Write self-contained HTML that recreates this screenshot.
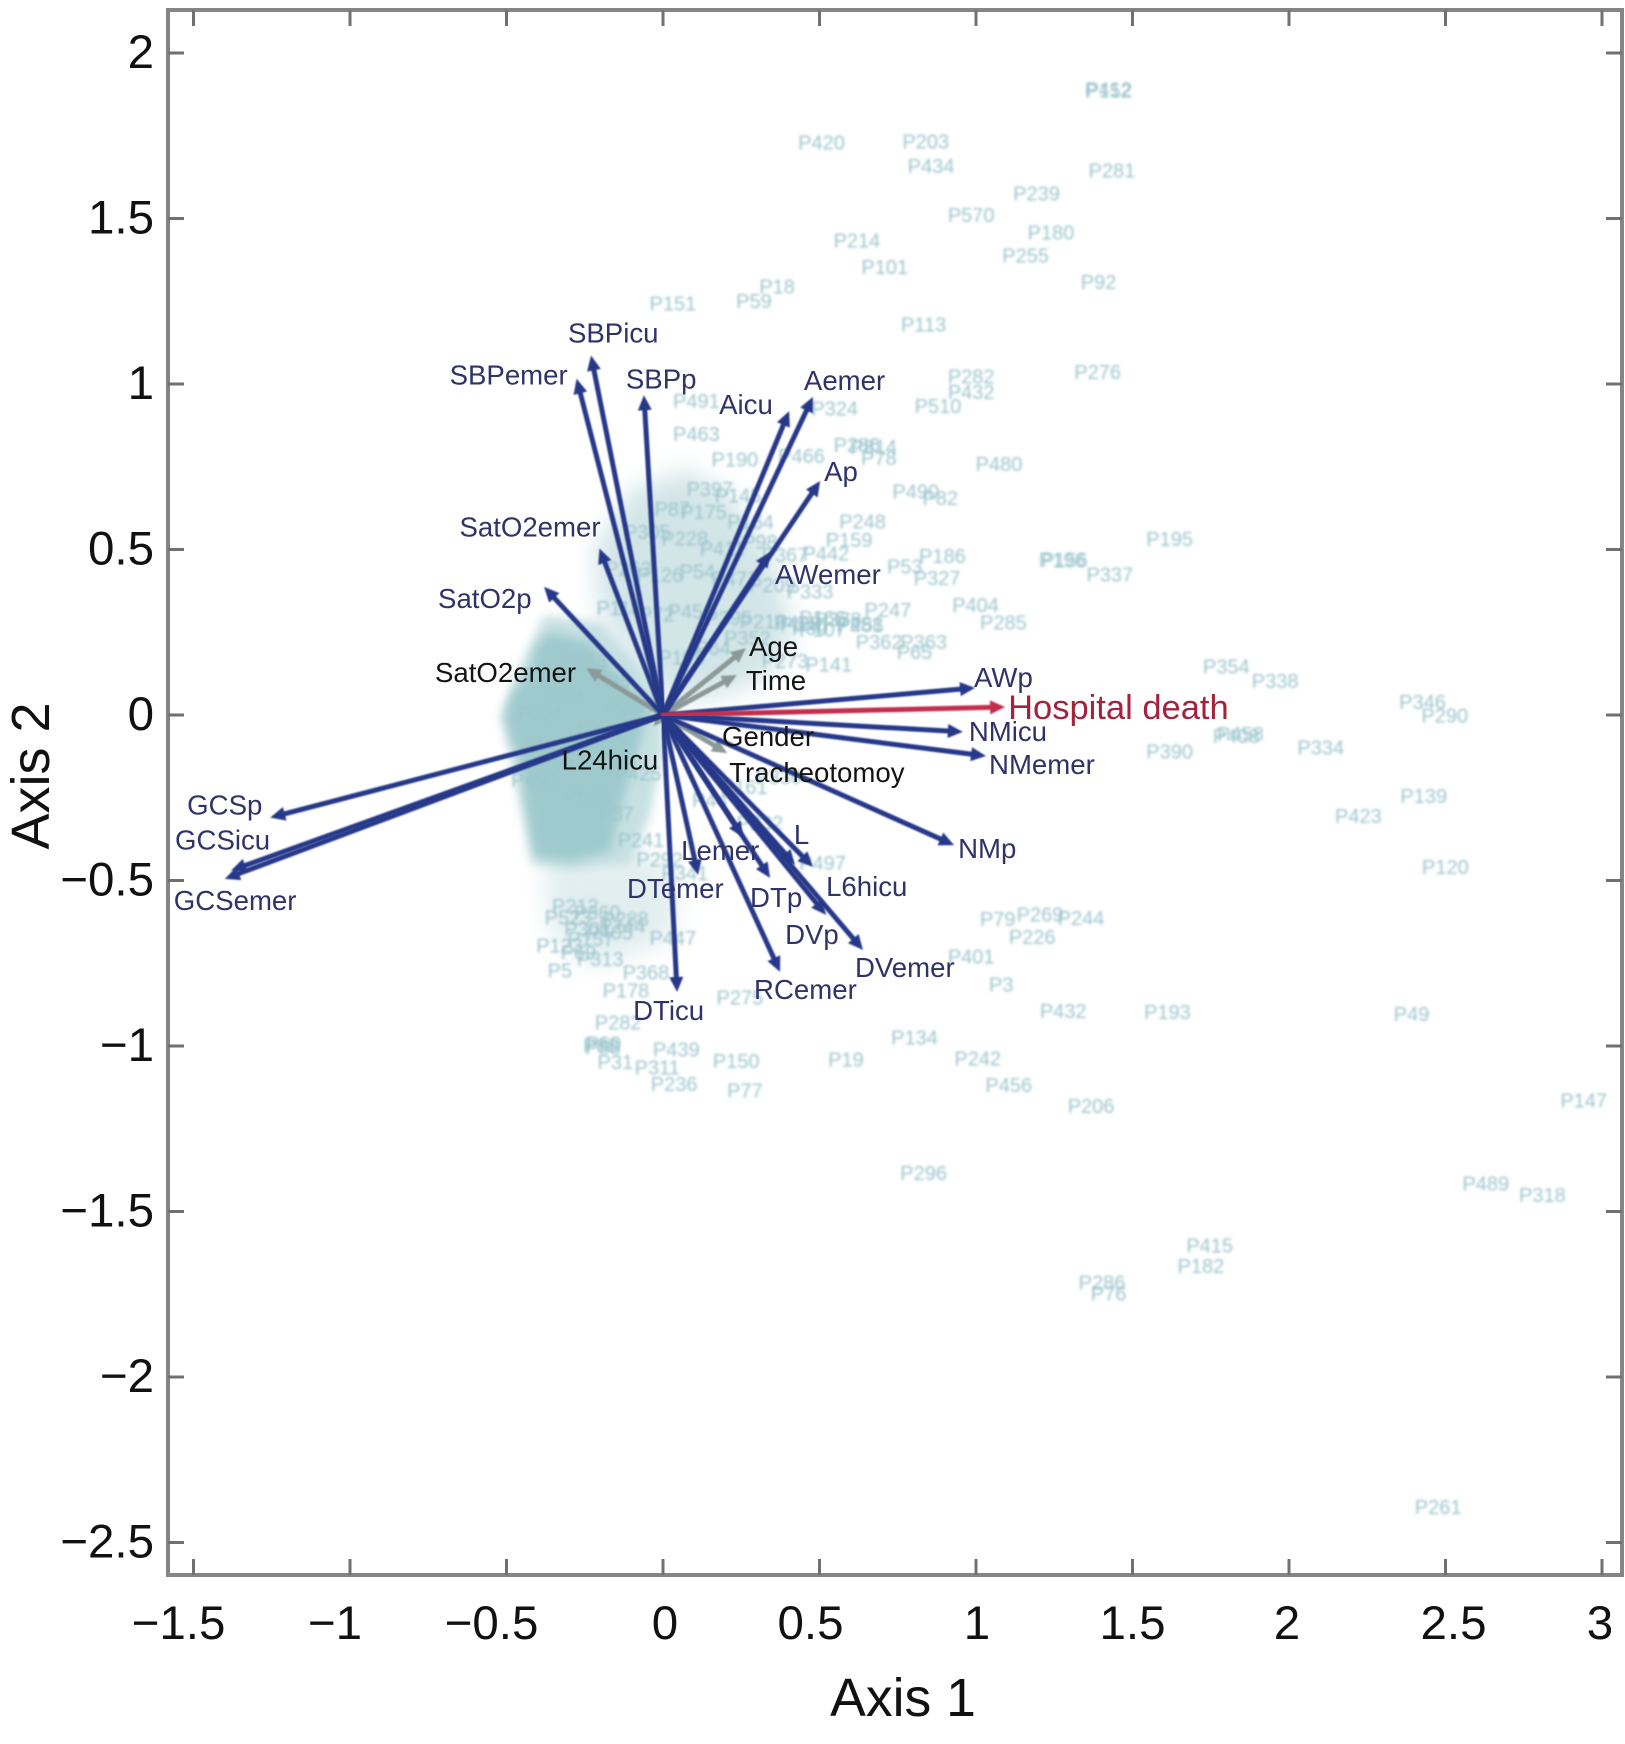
<!DOCTYPE html>
<html lang="en">
<head>
<meta charset="utf-8">
<title>Biplot of Axis 1 and Axis 2</title>
<style>
html,body{margin:0;padding:0;background:#fff;}
svg{display:block;font-family:"Liberation Sans",sans-serif;}
</style>
</head>
<body>
<svg id="chart" xmlns="http://www.w3.org/2000/svg" width="1625" height="1744" viewBox="0 0 1625 1744">
  <defs>
    <filter id="blur-cloud" x="-20%" y="-20%" width="140%" height="140%"><feGaussianBlur stdDeviation="5"/></filter>
    <filter id="blur-wide" x="-20%" y="-20%" width="140%" height="140%"><feGaussianBlur stdDeviation="12"/></filter>
    <filter id="blur-point" x="-20%" y="-50%" width="140%" height="200%"><feGaussianBlur stdDeviation="1.4"/></filter>
    <filter id="blur-arrow" x="-5%" y="-5%" width="110%" height="110%"><feGaussianBlur stdDeviation="0.9"/></filter>
  </defs>
  <rect x="0" y="0" width="1625" height="1744" fill="#ffffff"/>
  <g id="clouds"></g>
  <g id="points"></g>
  <g id="arrows"></g>
  <g id="var-labels"></g>
  <rect x="168" y="10" width="1454" height="1565" fill="none" stroke="#858585" stroke-width="4"/>
  <g id="ticks"></g>
  <g id="tick-labels"></g>
  <text x="903" y="1716" font-size="53.5" text-anchor="middle" fill="#111">Axis 1</text>
  <text transform="translate(49 776) rotate(-90)" font-size="54" text-anchor="middle" fill="#111">Axis 2</text>
</svg>
<script>
const xTicks = [-1.5, -1, -0.5, 0, 0.5, 1, 1.5, 2, 2.5, 3];
const yTicks = [2, 1.5, 1, 0.5, 0, -0.5, -1, -1.5, -2, -2.5];

const variableNames = ["GCSp","GCSicu","GCSemer","SBPemer","SBPicu","SBPp","Aicu","Aemer","Ap","AWemer","SatO2emer","SatO2p","SatO2emer","Age","Time","AWp","Hospital death","NMicu","NMemer","NMp","Gender","Tracheotomoy","L24hicu","L","L6hicu","DVp","DVemer","Lemer","DTemer","DTp","RCemer","DTicu"];
const variableAxis1 = [-1.255,-1.38,-1.4,-0.276,-0.23,-0.061,0.403,0.479,0.502,0.342,-0.203,-0.38,-0.246,0.265,0.236,0.997,1.093,0.958,1.032,0.93,0.064,0.205,-0.03,0.479,0.422,0.521,0.639,0.256,0.112,0.342,0.374,0.045];
const variableAxis2 = [-0.31,-0.47,-0.495,1.016,1.086,0.966,0.918,0.961,0.707,0.492,0.503,0.387,0.142,0.202,0.121,0.082,0.024,-0.051,-0.124,-0.393,-0.054,-0.115,-0.034,-0.459,-0.453,-0.604,-0.71,-0.369,-0.483,-0.492,-0.776,-0.837];
const variableGroups = ["blue","blue","blue","blue","blue","blue","blue","blue","blue","blue","blue","blue","gray","gray","gray","blue","red","blue","blue","blue","gray","gray","gray","blue","blue","blue","blue","blue","blue","blue","blue","blue"];

const pointNames = ["P152","P412","P420","P203","P434","P281","P239","P570","P180","P255","P214","P101","P92","P18","P59","P151","P113","P276","P282","P432","P510","P480","P490","P82","P248","P159","P442","P186","P53","P327","P196","P156","P337","P195","P404","P285","P247","P362","P363","P65","P354","P338","P346","P290","P390","P408","P458","P334","P139","P423","P120","P79","P269","P244","P226","P401","P3","P432","P193","P49","P134","P242","P456","P206","P19","P150","P77","P439","P236","P311","P31","P88","P60","P147","P296","P489","P318","P415","P182","P286","P76","P261","P324","P491","P463","P190","P286","P814","P78","P466","P397","P145","P87","P175","P164","P305","P228","P411","P98","P367","P263","P126","P54","P471","P209","P333","P118","P72","P456","P395","P218","P340","P166","P429","P30","P378","P251","P107","P488","P199","P64","P352","P273","P141","P523","P123","P301","P447","P5","P368","P178","P275","P282","P88","P212","P360","P244","P157","P405","P69","P313","P288","P130","P492","P241","P503","P37","P425","P221","P94","P349","P268","P177","P413","P85","P241","P292","P341","P44","P161","P330","P232","P497"];
const pointAxis1 = [1.414,1.414,0.497,0.83,0.847,1.425,1.184,0.975,1.23,1.149,0.61,0.699,1.382,0.355,0.281,0.022,0.823,1.379,0.975,0.975,0.869,1.064,0.798,0.876,0.628,0.585,0.511,0.883,0.763,0.866,1.266,1.273,1.418,1.609,0.989,1.078,0.709,0.681,0.823,0.794,1.79,1.946,2.417,2.488,1.609,1.822,1.835,2.092,2.421,2.212,2.49,1.06,1.195,1.326,1.17,0.975,1.071,1.269,1.602,2.382,0.794,0.996,1.095,1.358,0.575,0.224,0.252,0.033,0.026,-0.028,-0.162,-0.208,-0.2,2.932,0.823,2.619,2.8,1.737,1.709,1.393,1.414,2.467,0.539,0.097,0.097,0.22,0.61,0.663,0.68,0.433,0.14,0.23,0.02,0.12,0.27,-0.06,0.06,0.18,0.3,0.38,-0.12,-0.02,0.1,0.22,0.34,0.46,-0.15,-0.03,0.08,0.2,0.31,0.44,0.5,0.42,0.46,0.55,0.62,0.5,0.62,0.05,0.15,0.26,0.38,0.52,-0.313,-0.34,-0.25,0.022,-0.339,-0.064,-0.128,0.236,-0.153,-0.201,-0.29,-0.22,-0.14,-0.24,-0.18,-0.28,-0.21,-0.13,-0.36,-0.42,-0.33,-0.25,-0.16,-0.09,-0.4,-0.32,-0.21,-0.12,-0.38,-0.26,-0.17,-0.08,-0.02,0.06,0.14,0.25,0.36,0.3,0.5];
const pointAxis2 = [1.883,1.887,1.726,1.73,1.656,1.642,1.572,1.508,1.455,1.385,1.431,1.351,1.305,1.291,1.247,1.24,1.177,1.033,1.02,0.973,0.93,0.755,0.672,0.652,0.582,0.525,0.485,0.478,0.445,0.411,0.465,0.465,0.421,0.528,0.33,0.277,0.314,0.217,0.217,0.187,0.143,0.1,0.036,-0.004,-0.114,-0.067,-0.06,-0.101,-0.248,-0.308,-0.462,-0.62,-0.606,-0.616,-0.673,-0.733,-0.817,-0.897,-0.9,-0.907,-0.977,-1.041,-1.121,-1.185,-1.044,-1.048,-1.138,-1.014,-1.118,-1.068,-1.051,-1.001,-0.995,-1.168,-1.386,-1.419,-1.453,-1.606,-1.667,-1.717,-1.75,-2.396,0.923,0.946,0.846,0.769,0.812,0.806,0.773,0.779,0.68,0.66,0.62,0.61,0.58,0.55,0.53,0.5,0.52,0.48,0.44,0.42,0.43,0.41,0.39,0.37,0.32,0.3,0.31,0.29,0.28,0.27,0.29,0.275,0.26,0.285,0.27,0.255,0.27,0.17,0.2,0.23,0.16,0.15,-0.615,-0.7,-0.65,-0.676,-0.775,-0.781,-0.836,-0.857,-0.932,-1.008,-0.58,-0.6,-0.64,-0.68,-0.66,-0.72,-0.74,-0.62,-0.1,-0.2,-0.15,-0.25,-0.3,-0.18,0.0,0.05,-0.05,0.02,0.12,0.16,0.1,-0.38,-0.44,-0.48,-0.26,-0.22,-0.19,-0.33,-0.45];

const coreCloudAxis1 = [-0.361,-0.233,-0.121,-0.042,-0.073,-0.121,-0.169,-0.297,-0.409,-0.441,-0.457,-0.482,-0.505,-0.482,-0.425,-0.409];
const coreCloudAxis2 = [0.25,0.22,0.1,0.039,-0.081,-0.232,-0.413,-0.443,-0.428,-0.262,-0.142,-0.081,-0.006,0.069,0.13,0.205];
const haloCloudAxis1 = [-0.38,-0.2,-0.08,0,0,-0.04,-0.1,-0.3,-0.42,-0.47,-0.52,-0.46];
const haloCloudAxis2 = [0.3,0.28,0.16,0.04,-0.1,-0.3,-0.45,-0.47,-0.45,-0.2,0,0.14];
const upperCloudAxis1 = [-0.1,0.08,0.22,0.36,0.42,0.34,0.2,0.03,-0.08,-0.2,-0.22];
const upperCloudAxis2 = [0.68,0.74,0.66,0.46,0.22,0.12,0.06,0.04,0.16,0.3,0.5];
const lowerCloudAxis1 = [-0.38,-0.2,-0.05,0.05,0.03,-0.1,-0.22,-0.36];
const lowerCloudAxis2 = [-0.44,-0.45,-0.42,-0.5,-0.68,-0.72,-0.76,-0.66];

const labelOffsets = {
  "GCSp":[-83,-3],"GCSicu":[-56,-21],"GCSemer":[-51,31],"SBPemer":[-127,6],"SBPicu":[-23,-13],"SBPp":[-18,-7],
  "Aicu":[-70,3],"Aemer":[-9,-7],"Ap":[4,0],"AWemer":[5,32],"SatO2emer-blue":[-140,-12],"SatO2p":[-106,21],
  "SatO2emer-gray":[-151,14],"Age":[3,8],"Time":[9,15],"AWp":[-1,-1],"Hospital death":[3,12],"NMicu":[6,9],
  "NMemer":[3,18],"NMp":[4,13],"Gender":[39,13],"Tracheotomoy":[2,29],"L24hicu":[-92,43],"L":[-19,-23],
  "L6hicu":[31,31],"DVp":[-41,29],"DVemer":[-8,27],"Lemer":[-62,23],"DTemer":[-71,23],"DTp":[-20,29],
  "RCemer":[-26,27],"DTicu":[-44,28]
};
const xLabelNudge = {"0":2,"0.5":-9,"1":1,"2":-2,"2.5":8,"3":-2};

const SVG_NS = "http://www.w3.org/2000/svg";
const originX = 663, unitX = 313, originY = 715, unitY = 331;
function xScale(v){ return originX + unitX * v; }
function yScale(v){ return originY - unitY * v; }
function fmt(v){ return (v < 0 ? "\u2212" + Math.abs(v) : String(v)); }
function slug(s){ return s.toLowerCase().replace(/[^a-z0-9]+/g, "-"); }
function make(tag, attrs, parent){
  const el = document.createElementNS(SVG_NS, tag);
  for (const k in attrs) el.setAttribute(k, attrs[k]);
  parent.appendChild(el);
  return el;
}
function polyPoints(xs, ys){
  return xs.map(function(x, i){ return xScale(x) + "," + yScale(ys[i]); }).join(" ");
}

const clouds = document.getElementById("clouds");
const upperCloud = make("polygon", {points: polyPoints(upperCloudAxis1, upperCloudAxis2), fill: "#c4dde0", opacity: "0.75", filter: "url(#blur-wide)"}, clouds);


const lowerCloud = make("polygon", {points: polyPoints(lowerCloudAxis1, lowerCloudAxis2), fill: "#d5e6e8", opacity: "0.7", filter: "url(#blur-wide)"}, clouds);


const haloCloud = make("polygon", {points: polyPoints(haloCloudAxis1, haloCloudAxis2), fill: "#bedbde", opacity: "0.85", filter: "url(#blur-cloud)"}, clouds);


const coreCloud = make("polygon", {points: polyPoints(coreCloudAxis1, coreCloudAxis2), fill: "#9fcacd", filter: "url(#blur-cloud)"}, clouds);



const pointsGroup = document.getElementById("points");
pointNames.forEach(function(name, i){
  const t = make("text", {x: xScale(pointAxis1[i]) + 3, y: yScale(pointAxis2[i]) + 6, "font-size": 20, "text-anchor": "middle", fill: "#9cc5cd", filter: "url(#blur-point)"}, pointsGroup);
  t.textContent = name;
  
  
});

const groupColors = {blue: "#283889", gray: "#8b9a98", red: "#c42d4e"};
const labelColors = {blue: "#2f3368", gray: "#141414", red: "#a3233f"};
const arrowsGroup = document.getElementById("arrows");
const labelsGroup = document.getElementById("var-labels");
const order = variableNames.map(function(_, i){ return i; }).sort(function(a, b){
  const rank = {gray: 0, blue: 1, red: 2};
  return rank[variableGroups[a]] - rank[variableGroups[b]];
});
order.forEach(function(i){
  const name = variableNames[i];
  const group = variableGroups[i];
  const tx = xScale(variableAxis1[i]), ty = yScale(variableAxis2[i]);
  const ox = xScale(0), oy = yScale(0);
  const len = Math.hypot(tx - ox, ty - oy) || 1;
  const ux = (tx - ox) / len, uy = (ty - oy) / len;
  const headLen = 15, headHalf = 7;
  const bx = tx - ux * headLen, by = ty - uy * headLen;
  const arrow = make("g", {filter: "url(#blur-arrow)"}, arrowsGroup);
  
  
  make("line", {x1: ox, y1: oy, x2: bx, y2: by, stroke: groupColors[group], "stroke-width": 5, "stroke-linecap": "round"}, arrow);
  make("polygon", {points: tx + "," + ty + " " + (bx - uy * headHalf) + "," + (by + ux * headHalf) + " " + (bx + uy * headHalf) + "," + (by - ux * headHalf), fill: groupColors[group]}, arrow);

  const key = name === "SatO2emer" ? name + "-" + group : name;
  const off = labelOffsets[key];
  const label = make("text", {x: tx + off[0], y: ty + off[1], "font-size": group === "red" ? 34.5 : 27.6, fill: labelColors[group]}, labelsGroup);
  label.textContent = name;
  
  
});

const ticksGroup = document.getElementById("ticks");
const tickLabelsGroup = document.getElementById("tick-labels");
const frameLeft = 168, frameRight = 1622, frameTop = 10, frameBottom = 1575, tickLen = 16;
xTicks.forEach(function(v){
  const x = xScale(v);
  const tb = make("line", {x1: x, y1: frameBottom, x2: x, y2: frameBottom - tickLen, stroke: "#707070", "stroke-width": 3}, ticksGroup);
  
  
  const tt = make("line", {x1: x, y1: frameTop, x2: x, y2: frameTop + tickLen, stroke: "#707070", "stroke-width": 3}, ticksGroup);
  
  
  const nudge = xLabelNudge[String(v)] || 0;
  const lbl = make("text", {x: x + (v < 0 ? -15 : 0) + nudge, y: 1639, "font-size": 47.5, "text-anchor": "middle", fill: "#111"}, tickLabelsGroup);
  lbl.textContent = fmt(v);
  
  
});
yTicks.forEach(function(v){
  const y = yScale(v);
  const tl = make("line", {x1: frameLeft, y1: y, x2: frameLeft + tickLen, y2: y, stroke: "#707070", "stroke-width": 3}, ticksGroup);
  
  
  const tr = make("line", {x1: frameRight, y1: y, x2: frameRight - tickLen, y2: y, stroke: "#707070", "stroke-width": 3}, ticksGroup);
  
  
  const lbl = make("text", {x: 154, y: y + 15, "font-size": 47.5, "text-anchor": "end", fill: "#111"}, tickLabelsGroup);
  lbl.textContent = fmt(v);
  
  
});
</script>
</body>
</html>
